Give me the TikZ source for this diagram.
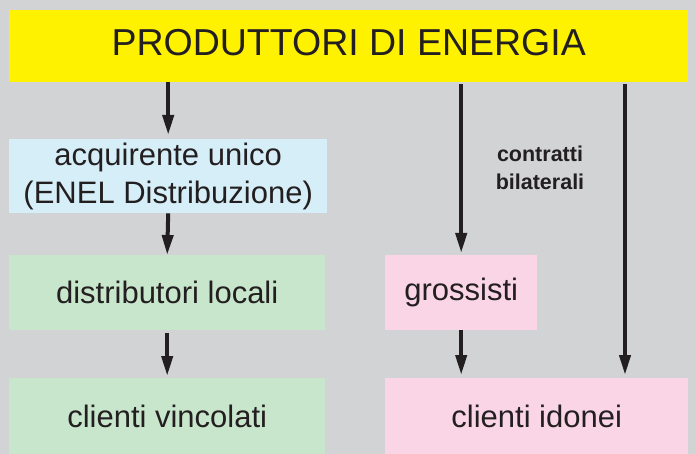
\documentclass[tikz,border=0pt]{standalone}
\usepackage{fontspec}
\setmainfont{Liberation Sans}
\usetikzlibrary{arrows.meta}
\definecolor{bggray}{HTML}{D1D3D5}
\definecolor{yel}{HTML}{FFF200}
\definecolor{lblue}{HTML}{D6EEF8}
\definecolor{lgreen}{HTML}{C8E6CC}
\definecolor{lpink}{HTML}{F9D5E5}
\definecolor{ink}{HTML}{231F20}
\tikzset{
  box/.style={anchor=north west, inner sep=0pt, text=ink, align=center, font=\fontsize{31}{38}\selectfont},
  flow/.style={draw=ink, line width=4pt, -{Triangle[length=20pt,width=11pt]}}
}
\begin{document}
\begin{tikzpicture}[x=1pt,y=1pt]
\fill[bggray] (0,0) rectangle (696,-454);
\useasboundingbox (0,0) rectangle (696,-454);
\node[box, fill=yel, minimum width=679pt, minimum height=72pt, text depth=8pt, font=\fontsize{37.5}{44}\selectfont] (prod) at (9,-10) {PRODUTTORI DI ENERGIA};
\node[box, fill=lblue, minimum width=318pt, minimum height=74pt] (acq) at (9,-139) {acquirente unico\\(ENEL Distribuzione)};
\node[box, fill=lgreen, minimum width=316pt, minimum height=75pt] (dist) at (9,-255) {distributori locali};
\node[box, fill=lgreen, minimum width=316pt, minimum height=76pt] (vinc) at (9,-378) {clienti vincolati};
\node[box, fill=lpink, minimum width=152pt, minimum height=75pt] (gros) at (385,-255) {grossisti};
\node[box, fill=lpink, minimum width=303pt, minimum height=76pt] (idon) at (385,-378) {clienti idonei};
\node[text=ink, align=center, inner sep=0pt, font=\fontsize{21.5}{28}\selectfont\bfseries] (contr) at (540,-168) {contratti\\bilaterali};
\coordinate (rx) at (625,0);
\draw[flow, shorten >=4pt] (prod.south -| acq.north) -- (acq.north);
\draw[flow] (acq.south) -- (dist.north);
\draw[flow, shorten <=3pt, shorten >=2pt] (dist.south) -- (vinc.north);
\draw[flow, shorten <=2pt, shorten >=2pt] (prod.south -| gros.north) -- (gros.north);
\draw[flow, shorten >=3pt] (gros.south) -- (idon.north -| gros.south);
\draw[flow, shorten <=2pt, shorten >=3pt] (prod.south -| rx) -- (idon.north -| rx);
\end{tikzpicture}
\end{document}
